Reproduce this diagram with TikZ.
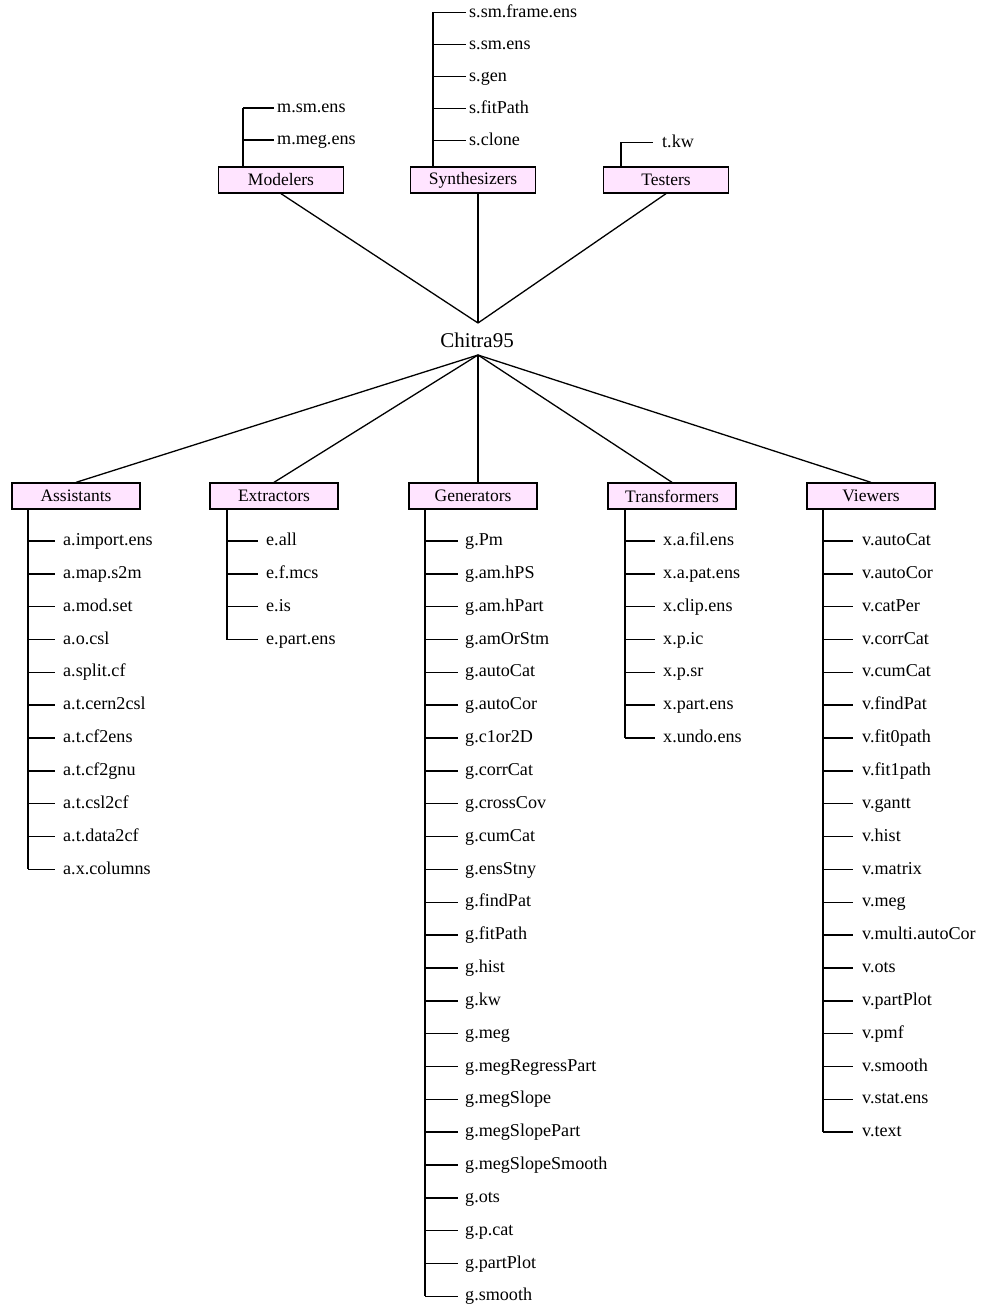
\documentclass[tikz,border=0pt]{standalone}
\usepackage{fontspec}
\setmainfont{Liberation Serif}
\definecolor{boxpink}{RGB}{255,228,255}

% list of leaves hanging off a vertical trunk
% #1 name prefix, #2 trunk x, #3 first branch y, #4 spacing, #5 branch length,
% #6 text offset from trunk, #7 items
\newcommand\leaflist[7]{%
  \foreach \t [count=\i from 0] in {#7}{%
    \coordinate (#1-b\i) at (#2,{#3+\i*#4});
    \coordinate (#1-e\i) at ({#2+#5},{#3+\i*#4});
    \node[leaf] (#1-\i) at ({#2+#6},{#3+\i*#4+4.6}) {\t};
    \draw[tree] (#1-b\i) -- (#1-e\i);
  }%
}

\begin{document}
\begin{tikzpicture}[x=1pt,y=-1pt,
  cat/.style={draw, line width=1.3pt, fill=boxpink, inner sep=0pt,
    minimum height=26pt, font=\fontsize{17.5}{20}\selectfont},
  lowcat/.style={cat, minimum width=128pt},
  topcat/.style={cat, minimum width=125pt},
  leaf/.style={anchor=base west, inner sep=0pt, font=\fontsize{18.1}{20}\selectfont},
  tree/.style={line width=1.5pt},
  hubline/.style={line width=1.3pt}]
\useasboundingbox (0,0) rectangle (980,1308);

% root
\node[inner sep=0pt, anchor=base, font=\fontsize{21}{24}\selectfont] (hub) at (477,347) {Chitra95};
\coordinate (hubN) at (478,323);
\coordinate (hubS) at (478,355);

% upper categories
\node[topcat] (mod) at (281,180) {Modelers};
\node[topcat] (syn) at (473,180) {Synthesizers};
\node[topcat] (tst) at (666,180) {Testers};

% lower categories
\node[lowcat] (ast) at (76,496) {Assistants};
\node[lowcat] (ext) at (274,496) {Extractors};
\node[lowcat] (gen) at (473,496) {Generators};
\node[lowcat] (trf) at (672,496) {Transformers};
\node[lowcat] (vwr) at (871,496) {Viewers};

% root connectors
\draw[hubline] (mod.south) -- (hubN);
\draw[hubline] (hubN |- syn.south) -- (hubN);
\draw[hubline] (tst.south) -- (hubN);
\draw[hubline] (hubS) -- (ast.north);
\draw[hubline] (hubS) -- (ext.north);
\draw[hubline] (hubS) -- (hubS |- gen.north);
\draw[hubline] (hubS) -- (trf.north);
\draw[hubline] (hubS) -- (vwr.north);

% upper leaves
\leaflist{m}{243}{108}{32}{31}{34}{m.sm.ens,m.meg.ens}
\draw[tree] (m-b0) -- (m-b0 |- mod.north);
\leaflist{s}{433}{12.5}{32}{33}{36}{s.sm.frame.ens,s.sm.ens,s.gen,s.fitPath,s.clone}
\draw[tree] (s-b0) -- (s-b0 |- syn.north);
\leaflist{t}{621}{142.5}{32}{32}{41}{t.kw}
\draw[tree] (t-b0) -- (t-b0 |- tst.north);

% lower leaves
\leaflist{a}{28}{541}{32.84}{27}{35}{a.import.ens,a.map.s2m,a.mod.set,a.o.csl,a.split.cf,a.t.cern2csl,a.t.cf2ens,a.t.cf2gnu,a.t.csl2cf,a.t.data2cf,a.x.columns}
\draw[tree] (a-b0 |- ast.south) -- (a-b10);

\leaflist{e}{227}{541}{32.84}{31}{39}{e.all,e.f.mcs,e.is,e.part.ens}
\draw[tree] (e-b0 |- ext.south) -- (e-b3);

\leaflist{g}{425}{541}{32.84}{33}{40}{g.Pm,g.am.hPS,g.am.hPart,g.amOrStm,g.autoCat,g.autoCor,g.c1or2D,g.corrCat,g.crossCov,g.cumCat,g.ensStny,g.findPat,g.fitPath,g.hist,g.kw,g.meg,g.megRegressPart,g.megSlope,g.megSlopePart,g.megSlopeSmooth,g.ots,g.p.cat,g.partPlot,g.smooth}
\draw[tree] (g-b0 |- gen.south) -- (g-b23);

\leaflist{x}{625}{541}{32.84}{30}{38}{x.a.fil.ens,x.a.pat.ens,x.clip.ens,x.p.ic,x.p.sr,x.part.ens,x.undo.ens}
\draw[tree] (x-b0 |- trf.south) -- (x-b6);

\leaflist{v}{823}{541}{32.84}{30}{39}{v.autoCat,v.autoCor,v.catPer,v.corrCat,v.cumCat,v.findPat,v.fit0path,v.fit1path,v.gantt,v.hist,v.matrix,v.meg,v.multi.autoCor,v.ots,v.partPlot,v.pmf,v.smooth,v.stat.ens,v.text}
\draw[tree] (v-b0 |- vwr.south) -- (v-b18);
\end{tikzpicture}
\end{document}
